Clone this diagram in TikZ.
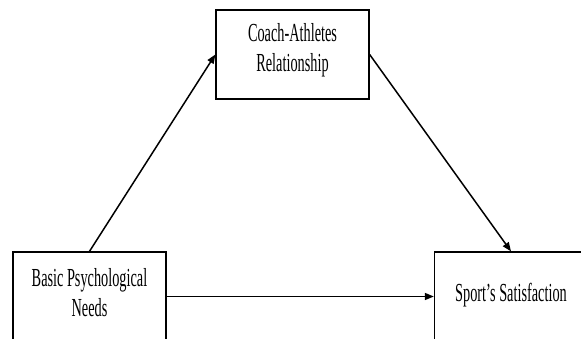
\documentclass[tikz,border=0pt]{standalone}
\usepackage{fontspec}
\setmainfont{Liberation Serif}[FakeStretch=0.55]
\usetikzlibrary{arrows.meta}
\begin{document}
\begin{tikzpicture}[x=1pt,y=-1pt,
  box/.style={draw=black,line width=1.3pt,minimum width=153pt,minimum height=89pt,inner sep=0pt},
  txt/.style={inner sep=0pt,align=center,font=\fontsize{26}{30}\selectfont},
  conn/.style={line width=1.5pt,-{Triangle[length=9pt,width=7pt]}}]
\useasboundingbox (0,0) rectangle (581,339);
\clip (0,0) rectangle (581,339);
\fill[white] (0,0) rectangle (581,339);
\node[box] (coach) at (292.5,54.5) {};
\node[box] (basic) at (89.5,296.5) {};
\node[box] (sport) at (511,296.5) {};
\node[txt,yshift=4pt] (coachT) at (coach.center) {Coach-Athletes\\Relationship};
\node[txt,yshift=4pt] (basicT) at (basic.center) {Basic Psychological\\Needs};
\node[txt,yshift=1pt] (sportT) at (sport.center) {Sport’s Satisfaction};
\draw[conn] (basic.north) -- (coach.west);
\draw[conn] (coach.east) -- (sport.north);
\draw[conn] (basic.east) -- (sport.west);
\end{tikzpicture}
\end{document}
